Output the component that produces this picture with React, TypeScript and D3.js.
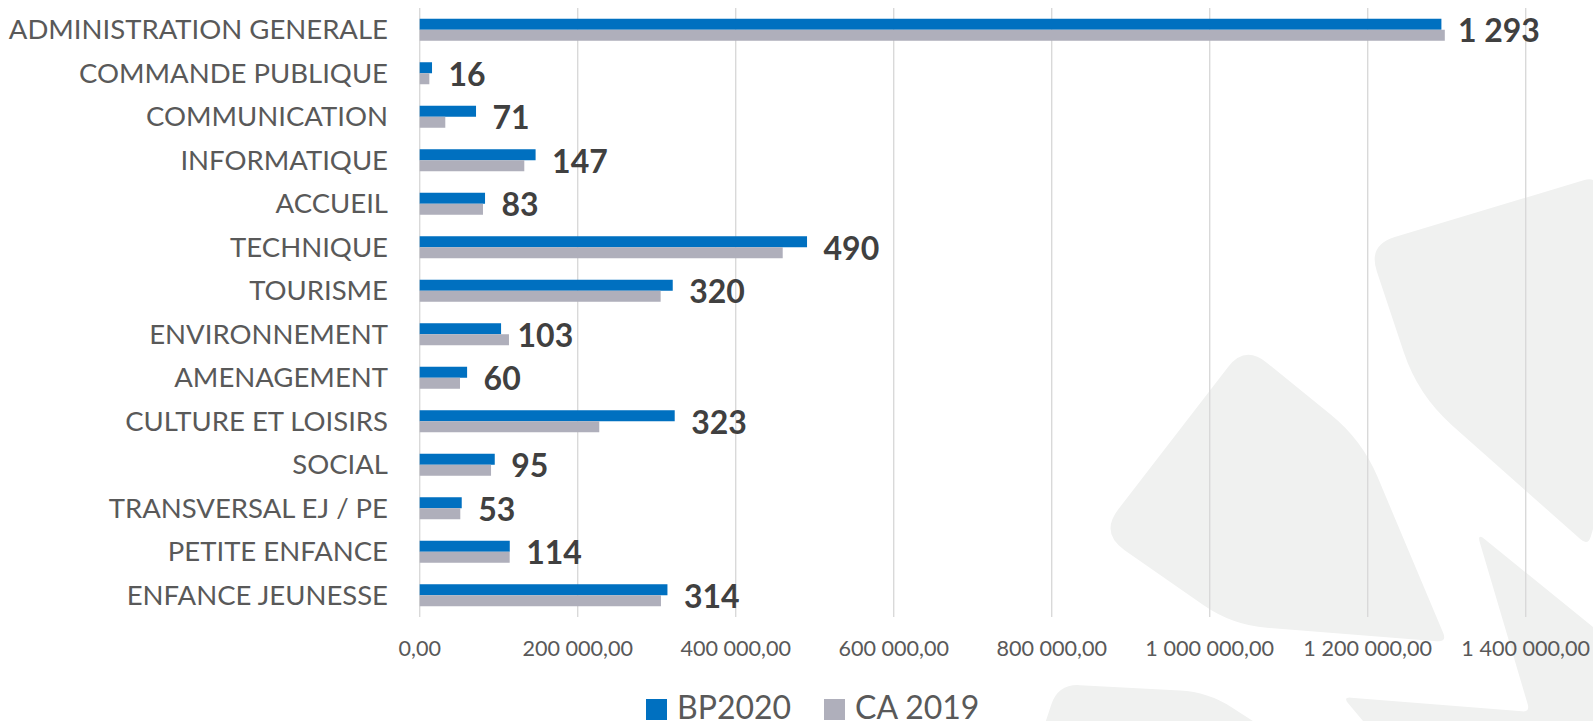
import React from "react";
import * as d3 from "d3";

const categories = [
  "ADMINISTRATION GENERALE",
  "COMMANDE PUBLIQUE",
  "COMMUNICATION",
  "INFORMATIQUE",
  "ACCUEIL",
  "TECHNIQUE",
  "TOURISME",
  "ENVIRONNEMENT",
  "AMENAGEMENT",
  "CULTURE ET LOISIRS",
  "SOCIAL",
  "TRANSVERSAL EJ / PE",
  "PETITE ENFANCE",
  "ENFANCE JEUNESSE",
];

const bp2020 = [
  1293300, 15600, 71300, 146700, 82700, 490300, 320300, 103000, 60000, 322800,
  95000, 53200, 114000, 313600,
];

const ca2019 = [
  1297600, 12200, 32400, 132400, 80100, 459500, 305000, 113000, 51000, 227300,
  90300, 51400, 113900, 305400,
];

const seriesNames = ["BP2020", "CA 2019"];
const seriesColors = ["#0070C0", "#AFAFBB"];
const xTicks = [0, 200000, 400000, 600000, 800000, 1000000, 1200000, 1400000];

// decorative background watermark shapes: [x, y, cornerRadius]
const watermarkA = [
  [1245, 345, 28],
  [1100, 533, 30],
  [1232, 625, 35],
  [1447, 642, 10],
  [1362, 440, 40],
];
const watermarkB = [
  [1368, 245, 28],
  [1598, 176, 15],
  [1625, 420, 10],
  [1588, 546, 10],
  [1418, 395, 45],
];
const watermarkC = [
  [1477, 533, 10],
  [1640, 665, 0],
  [1640, 745, 0],
  [1383, 745, 0],
  [1343, 697, 8],
  [1530, 712, 8],
];
const watermarkD = [
  [1038, 745, 0],
  [1058, 684, 22],
  [1208, 692, 28],
  [1290, 745, 0],
];

function roundedPath(pts: number[][]): string {
  const n = pts.length;
  const path = d3.path();
  const corner = (i: number) => {
    const [px, py, r] = pts[i];
    const [ax, ay] = pts[(i - 1 + n) % n];
    const [bx, by] = pts[(i + 1) % n];
    const la = Math.hypot(ax - px, ay - py);
    const lb = Math.hypot(bx - px, by - py);
    return {
      p1: [px + ((ax - px) * r) / la, py + ((ay - py) * r) / la],
      p2: [px + ((bx - px) * r) / lb, py + ((by - py) * r) / lb],
      p: [px, py],
    };
  };
  const cs = pts.map((_, i) => corner(i));
  path.moveTo(cs[0].p2[0], cs[0].p2[1]);
  for (let k = 1; k <= n; k++) {
    const c = cs[k % n];
    path.lineTo(c.p1[0], c.p1[1]);
    path.quadraticCurveTo(c.p[0], c.p[1], c.p2[0], c.p2[1]);
  }
  path.closePath();
  return path.toString();
}

const W = 1593;
const H = 721;
const plot = { left: 419.7, right: 1525.7, top: 8, bottom: 617 };

const locale = d3.formatLocale({
  decimal: ",",
  thousands: " ",
  grouping: [3],
  currency: ["", " €"],
});
const tickFmt = locale.format(",.2f");
const labelFmt = locale.format(",.0f");

export default function App() {
  const x = d3.scaleLinear().domain([0, 1400000]).range([plot.left, plot.right]);
  const y = d3
    .scaleBand<string>()
    .domain(categories)
    .range([plot.top, plot.bottom])
    .paddingInner(0.494)
    .paddingOuter(0.247);
  const sub = d3
    .scaleBand<string>()
    .domain(seriesNames)
    .range([0, y.bandwidth()]);
  const seriesData = [bp2020, ca2019];
  const font = "Lato, 'Open Sans', sans-serif";

  return (
    <svg
      width={W}
      height={H}
      style={{ position: "absolute", left: 0, top: 0, background: "#fff" }}
      fontFamily={font}
    >
      <rect x={0} y={0} width={W} height={H} fill="#fff" />
      {[watermarkA, watermarkB, watermarkC, watermarkD].map((s, i) => (
        <path key={i} d={roundedPath(s)} fill="#F0F1F0" />
      ))}
      {xTicks.map((t) => (
        <line
          key={t}
          x1={x(t)}
          x2={x(t)}
          y1={plot.top}
          y2={plot.bottom}
          stroke="#D9D9D9"
          strokeWidth={1.4}
        />
      ))}
      {xTicks.map((t) => (
        <text
          key={"t" + t}
          x={x(t)}
          y={648}
          dy="0.35em"
          textAnchor="middle"
          fontSize={21.6}
          fill="#595959"
        >
          {tickFmt(t)}
        </text>
      ))}
      {categories.map((c, i) => (
        <g key={c}>
          <text
            x={388}
            y={(y(c) as number) + y.bandwidth() / 2}
            dy="0.35em"
            textAnchor="end"
            fontSize={27.5}
            fill="#595959"
          >
            {c}
          </text>
          {seriesNames.map((s, j) => (
            <rect
              key={s}
              x={x(0)}
              y={(y(c) as number) + (sub(s) as number)}
              width={x(seriesData[j][i]) - x(0)}
              height={sub.bandwidth()}
              fill={seriesColors[j]}
            />
          ))}
          <text
            x={x(bp2020[i]) + 16.5}
            y={(y(c) as number) + sub.bandwidth() + 1}
            dy="0.36em"
            fontSize={32}
            fontWeight={700}
            fill="#404040"
          >
            {labelFmt(bp2020[i] / 1000)}
          </text>
        </g>
      ))}
      {seriesNames.map((s, j) => {
        const lx = [646, 824][j];
        return (
          <g key={s}>
            <rect x={lx} y={699} width={21} height={21} fill={seriesColors[j]} />
            <text x={lx + 31} y={719} fontSize={32} fill="#595959">
              {s}
            </text>
          </g>
        );
      })}
    </svg>
  );
}
